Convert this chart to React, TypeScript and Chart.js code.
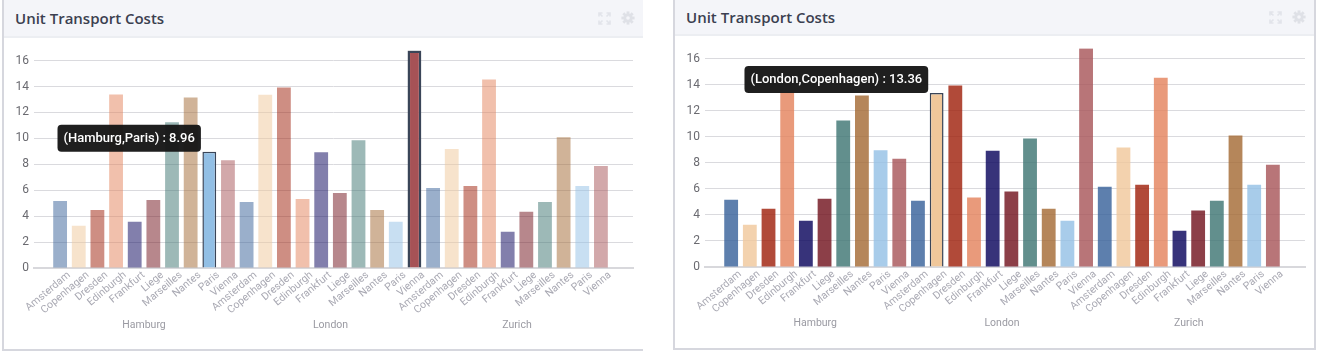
import React, { useEffect, useRef } from 'react';
import { Chart, registerables } from 'chart.js';

Chart.register(...registerables);

const groups = ['Hamburg', 'London', 'Zurich'];
const cities = ['Amsterdam', 'Copenhagen', 'Dresden', 'Edinburgh', 'Frankfurt', 'Liege', 'Marseilles', 'Nantes', 'Paris', 'Vienna'];
const hamburgCosts = [5.17, 3.25, 4.48, 13.39, 3.56, 5.25, 11.24, 13.16, 8.96, 8.32];
const londonCosts = [5.09, 13.36, 13.93, 5.33, 8.93, 5.79, 9.86, 4.48, 3.56, 16.77];
const zurichCosts = [6.17, 9.17, 6.32, 14.54, 2.79, 4.33, 5.09, 10.09, 6.32, 7.86];
const yTicks = [0, 2, 4, 6, 8, 10, 12, 14, 16];
const cityColors = [
  [53, 95, 152],
  [240, 199, 154],
  [158, 29, 7],
  [227, 129, 90],
  [5, 0, 89],
  [111, 15, 26],
  [59, 115, 112],
  [162, 104, 49],
  [146, 191, 229],
  [166, 82, 86],
];

const seriesByGroup = [hamburgCosts, londonCosts, zurichCosts];
const allValues = seriesByGroup.flat();

const rgba = (c: number[], a: number) => `rgba(${c[0]},${c[1]},${c[2]},${a})`;

type Variant = {
  hover: number;
  selected: number | null;
  baseAlpha: number;
  padTop: number;
  padRight: number;
  xHeight: number;
  groupOffset: number;
};

const tipPlugin = {
  id: 'hoverTip',
  afterDraw(chart: any, _args: any, opts: any) {
    const idx = opts.index;
    const el = chart.getDatasetMeta(0).data[idx];
    if (!el) return;
    const g = Math.floor(idx / 10);
    const c = idx % 10;
    const text = `(${groups[g]},${cities[c]}) : ${allValues[idx].toFixed(2)}`;
    const ctx = chart.ctx;
    ctx.save();
    ctx.font = '500 13px Roboto';
    const w = ctx.measureText(text).width + 12;
    const h = 27;
    const right = el.x - el.width / 2 - 1.5;
    const bottom = el.y;
    ctx.fillStyle = 'rgba(22,22,22,0.96)';
    ctx.beginPath();
    ctx.roundRect(right - w, bottom - h, w, h, 4);
    ctx.fill();
    ctx.fillStyle = '#ffffff';
    ctx.textBaseline = 'middle';
    ctx.textAlign = 'left';
    ctx.fillText(text, right - w + 6, bottom - h / 2 + 0.5);
    ctx.restore();
  },
};

const groupPlugin = {
  id: 'groupLabels',
  afterDraw(chart: any, _args: any, opts: any) {
    const xs = chart.scales.x;
    const ctx = chart.ctx;
    ctx.save();
    ctx.font = '10.5px Roboto';
    ctx.fillStyle = '#9a9aa2';
    ctx.textAlign = 'center';
    ctx.textBaseline = 'middle';
    groups.forEach((name, g) => {
      ctx.fillText(name, xs.getPixelForValue(g * 10 + 4.5), chart.chartArea.bottom + opts.offset);
    });
    ctx.restore();
  },
};

function BarChart({ v, width, height }: { v: Variant; width: number; height: number }) {
  const ref = useRef<HTMLCanvasElement>(null);
  useEffect(() => {
    if (!ref.current) return;
    const bg = allValues.map((_, i) => {
      const col = cityColors[i % 10];
      if (i === v.hover || i === v.selected) return rgba(col, 1);
      return rgba(col, v.baseAlpha);
    });
    const borderW = allValues.map((_, i) => (i === v.hover ? 1.5 : i === v.selected ? 2.5 : 0));
    const chart = new Chart(ref.current, {
      type: 'bar',
      data: {
        datasets: [
          {
            data: allValues.map((y, i) => ({ x: i, y })),
            backgroundColor: bg,
            borderColor: '#3a4558',
            borderWidth: borderW,
            categoryPercentage: 1,
            barPercentage: 0.74,
          },
        ],
      },
      options: {
        animation: false,
        responsive: false,
        events: [],
        layout: { padding: { top: v.padTop, right: v.padRight, left: 0, bottom: 0 } },
        plugins: {
          legend: { display: false },
          tooltip: { enabled: false },
          hoverTip: { index: v.hover },
          groupLabels: { offset: v.groupOffset },
        } as any,
        scales: {
          x: {
            type: 'linear',
            offset: false,
            min: -1.4,
            max: 30.72,
            afterBuildTicks: (s: any) => {
              s.ticks = allValues.map((_, i) => ({ value: i }));
            },
            afterFit: (s: any) => {
              s.height = v.xHeight;
            },
            ticks: {
              autoSkip: false,
              minRotation: 40,
              maxRotation: 40,
              padding: -7,
              labelOffset: 9,
              color: '#a9a9b3',
              font: { family: 'Roboto', size: 10.5 },
              callback: (val: any) => cities[Math.round(val) % 10],
            },
            grid: { display: false },
            border: { display: true, color: '#d8d8dc', width: 2 },
          },
          y: {
            min: 0,
            max: 16.8,
            afterBuildTicks: (s: any) => {
              s.ticks = yTicks.map((t) => ({ value: t }));
            },
            afterFit: (s: any) => {
              s.width = 30;
            },
            ticks: {
              padding: 5,
              color: '#6a6a70',
              font: { family: 'Roboto', size: 12 },
            },
            grid: { color: '#dadade', lineWidth: 1, drawTicks: false },
            border: { display: false },
          },
        },
      },
      plugins: [groupPlugin, tipPlugin],
    } as any);
    return () => chart.destroy();
  }, []);
  return <canvas ref={ref} width={width} height={height} style={{ display: 'block', width, height }} />;
}

const Icons = () => (
  <div style={{ position: 'absolute', right: 8, top: 0, height: '100%', display: 'flex', alignItems: 'center', gap: 10 }}>
    <svg width="13" height="13" viewBox="0 0 13 13">
      <g stroke="#e2e4ea" strokeWidth="1.6" fill="none">
        <path d="M1 4.5V1h3.5M1 1l3.5 3.5" />
        <path d="M12 4.5V1H8.5M12 1L8.5 4.5" />
        <path d="M1 8.5V12h3.5M1 12l3.5-3.5" />
        <path d="M12 8.5V12H8.5M12 12L8.5 8.5" />
      </g>
    </svg>
    <svg width="14" height="14" viewBox="0 0 14 14">
      <g fill="#dfe1e7">
        <circle cx="7" cy="7" r="4.6" />
        {[0, 45, 90, 135, 180, 225, 270, 315].map((a) => (
          <rect key={a} x="5.6" y="0.4" width="2.8" height="3" transform={`rotate(${a} 7 7)`} />
        ))}
      </g>
      <circle cx="7" cy="7" r="1.8" fill="#f4f5f9" />
    </svg>
  </div>
);

function Card({ left, width, headerH, canvasH, borderRight, v, titleTop }: any) {
  return (
    <div
      style={{
        position: 'absolute',
        left,
        top: 0,
        width,
        boxSizing: 'border-box',
        borderLeft: '2px solid #d6d7de',
        borderRight: borderRight ? '2px solid #d6d7de' : 'none',
        borderBottom: '2px solid #d6d7de',
        background: '#fff',
      }}
    >
      <div
        style={{
          position: 'relative',
          height: headerH,
          background: '#f4f5f9',
          borderBottom: '2px solid #eceef2',
          boxSizing: 'content-box',
        }}
      >
        <div
          style={{
            position: 'absolute',
            left: 11,
            top: titleTop,
            fontFamily: '"Open Sans", sans-serif',
            fontWeight: 600,
            fontSize: 15,
            color: '#3b4050',
            whiteSpace: 'nowrap',
          }}
        >
          Unit Transport Costs
        </div>
        <Icons />
      </div>
      <BarChart v={v} width={width - (borderRight ? 4 : 2)} height={canvasH} />
    </div>
  );
}

export default function App() {
  return (
    <div style={{ position: 'absolute', left: 0, top: 0, width: 1320, height: 356, background: '#fff', overflow: 'hidden' }}>
      <Card
        left={2}
        width={641}
        headerH={36}
        canvasH={311}
        borderRight={false}
        titleTop={8}
        v={{ hover: 8, selected: 19, baseAlpha: 0.5, padTop: 12, padRight: 10, xHeight: 81, groupOffset: 57 }}
      />
      <Card
        left={673}
        width={643}
        headerH={34}
        canvasH={312}
        borderRight={true}
        titleTop={7}
        v={{ hover: 11, selected: null, baseAlpha: 0.8, padTop: 11, padRight: 9, xHeight: 81, groupOffset: 56 }}
      />
    </div>
  );
}
